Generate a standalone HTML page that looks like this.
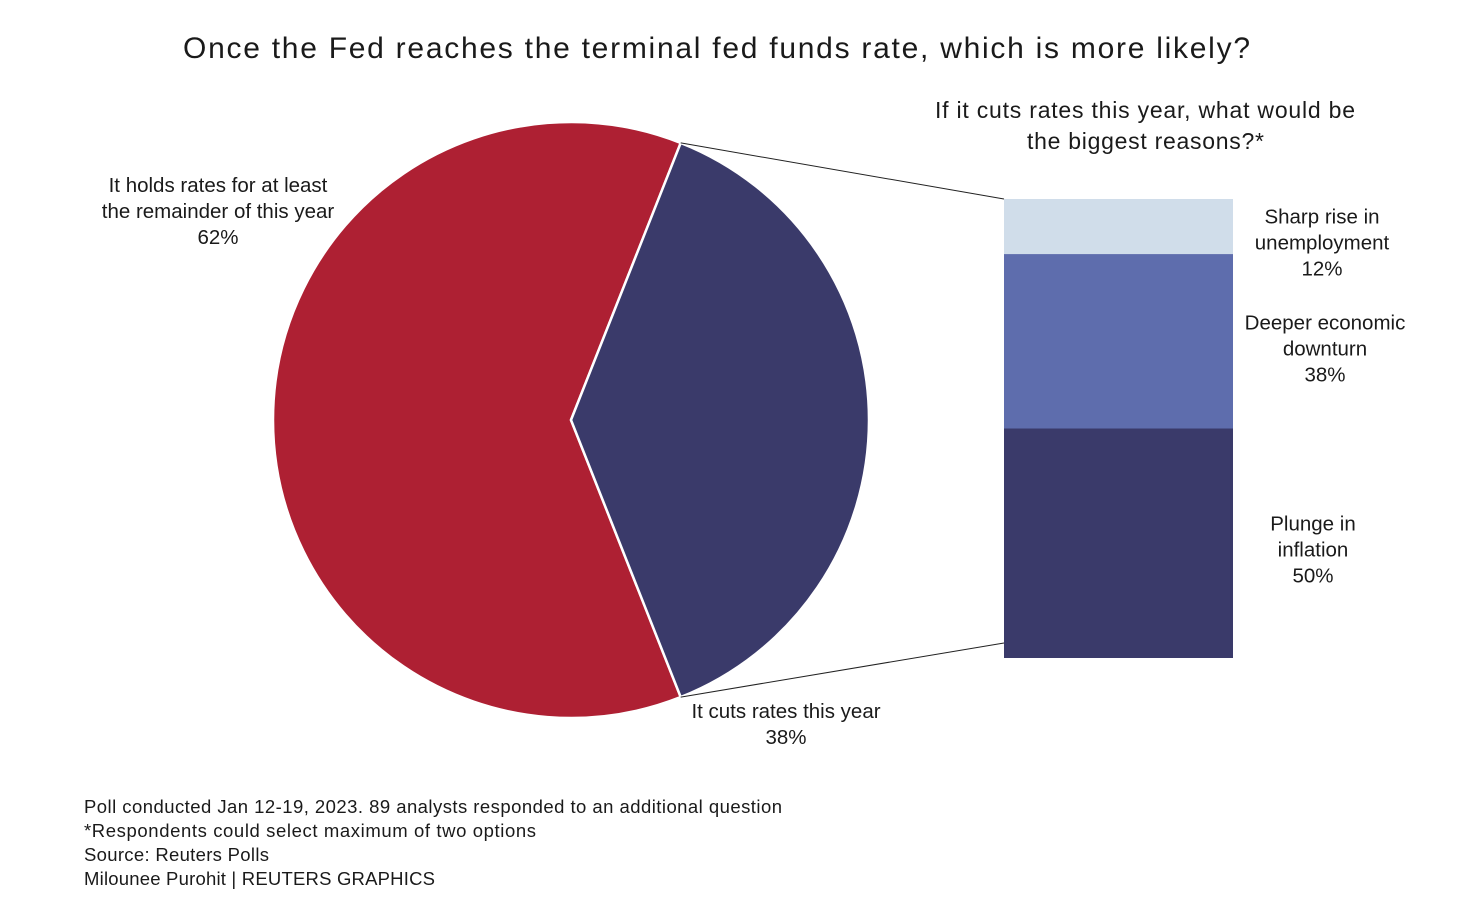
<!DOCTYPE html>
<html><head><meta charset="utf-8"><style>
html,body{margin:0;padding:0;background:#fff;}
body{width:1467px;height:898px;overflow:hidden;font-family:"Liberation Sans",sans-serif;}
svg text{font-family:"Liberation Sans",sans-serif;fill:#1a1a1a;}
</style></head><body>
<svg width="1467" height="898">
<text x="183" y="58" font-size="30" textLength="1067" lengthAdjust="spacing">Once the Fed reaches the terminal fed funds rate, which is more likely?</text>
<text x="935" y="118" font-size="23" textLength="420" lengthAdjust="spacing">If it cuts rates this year, what would be</text>
<text x="1027" y="149" font-size="23" textLength="237" lengthAdjust="spacing">the biggest reasons?*</text>
<g id="pie"></g>
<g id="bar"></g>
<g id="lines"></g>
<g id="labels"></g>
<g font-size="18.5">
<text x="84" y="813" textLength="698" lengthAdjust="spacing">Poll conducted Jan 12-19, 2023. 89 analysts responded to an additional question</text>
<text x="84" y="837" textLength="452" lengthAdjust="spacing">*Respondents could select maximum of two options</text>
<text x="84" y="861" textLength="185" lengthAdjust="spacing">Source: Reuters Polls</text>
<text x="84" y="885" textLength="351" lengthAdjust="spacing">Milounee Purohit | REUTERS GRAPHICS</text>
</g>
</svg>
<script>
const pieCategories = ["It holds rates for at least the remainder of this year", "It cuts rates this year"];
const pieValues = [62, 38];
const barCategories = ["Sharp rise in unemployment", "Deeper economic downturn", "Plunge in inflation"];
const barValues = [12, 38, 50];

const NS = "http://www.w3.org/2000/svg";
function mk(tag, attrs, parent){const e=document.createElementNS(NS,tag);for(const k in attrs)e.setAttribute(k,attrs[k]);parent.appendChild(e);return e;}
const cx=571, cy=420, R=298;
const pieColors=["#AE2033","#3A3A6A"];
const pieG=document.getElementById('pie');
const total=pieValues.reduce((a,b)=>a+b,0);
const blueHalf=pieValues[1]/total*Math.PI;
const angles=[[blueHalf, blueHalf+pieValues[0]/total*2*Math.PI],[-blueHalf, blueHalf]];
function pt(a){return [cx+R*Math.cos(a), cy-R*Math.sin(a)];}
angles.forEach((an,i)=>{
  const [a0,a1]=an; const p0=pt(a0), p1=pt(a1);
  const large=(a1-a0)>Math.PI?1:0;
  const p=mk('path',{d:`M${cx},${cy} L${p0[0]},${p0[1]} A${R},${R} 0 ${large} 0 ${p1[0]},${p1[1]} Z`,fill:pieColors[i],stroke:'#fff','stroke-width':2.5},pieG);
  
  
});
const bx=1004,bw=229,by=199,bh=459;
const barColors=["#D0DDEA","#5E6DAD","#3A3A6A"];
const bsum=barValues.reduce((a,b)=>a+b,0);
const barG=document.getElementById('bar');
const labG=document.getElementById('labels');
let y=by;
const barLabelX=[1322,1325,1313];
const barLabelShift=[15,6,5];
barValues.forEach((v,i)=>{
  const h=v/bsum*bh;
  const r=mk('rect',{x:bx,y:y,width:bw,height:h,fill:barColors[i]},barG);
  
  
  let l1,l2;
  if(i===0){l1="Sharp rise in";l2="unemployment";}else if(i===1){l1="Deeper economic";l2="downturn";}else{l1="Plunge in";l2="inflation";}
  const mid=y+h/2+barLabelShift[i];
  const t=mk('text',{x:barLabelX[i],y:mid-18,'font-size':20.5,'text-anchor':'middle'},labG);
  
  
  [l1,l2,v+"%"].forEach((s,j)=>{const ts=mk('tspan',{x:barLabelX[i],dy:j===0?0:26},t);ts.textContent=s;});
  y+=h;
});
const lg=document.getElementById('lines');
const pTop=pt(blueHalf), pBot=pt(-blueHalf);
const c1=mk('line',{x1:pTop[0],y1:pTop[1],x2:bx,y2:by,stroke:'#222','stroke-width':1},lg);


const c2=mk('line',{x1:pBot[0],y1:pBot[1],x2:bx,y2:643,stroke:'#222','stroke-width':1},lg);


function multi(lines,x,y0,name){const t=mk('text',{x:x,y:y0,'font-size':20.5,'text-anchor':'middle'},labG);
  
  
  lines.forEach((s,j)=>{const ts=mk('tspan',{x:x,dy:j===0?0:26},t);ts.textContent=s;});}
multi(["It holds rates for at least","the remainder of this year",pieValues[0]+"%"],218,192,'pie-label-holds');
multi([pieCategories[1],pieValues[1]+"%"],786,718,'pie-label-cuts');
</script>
</body></html>
